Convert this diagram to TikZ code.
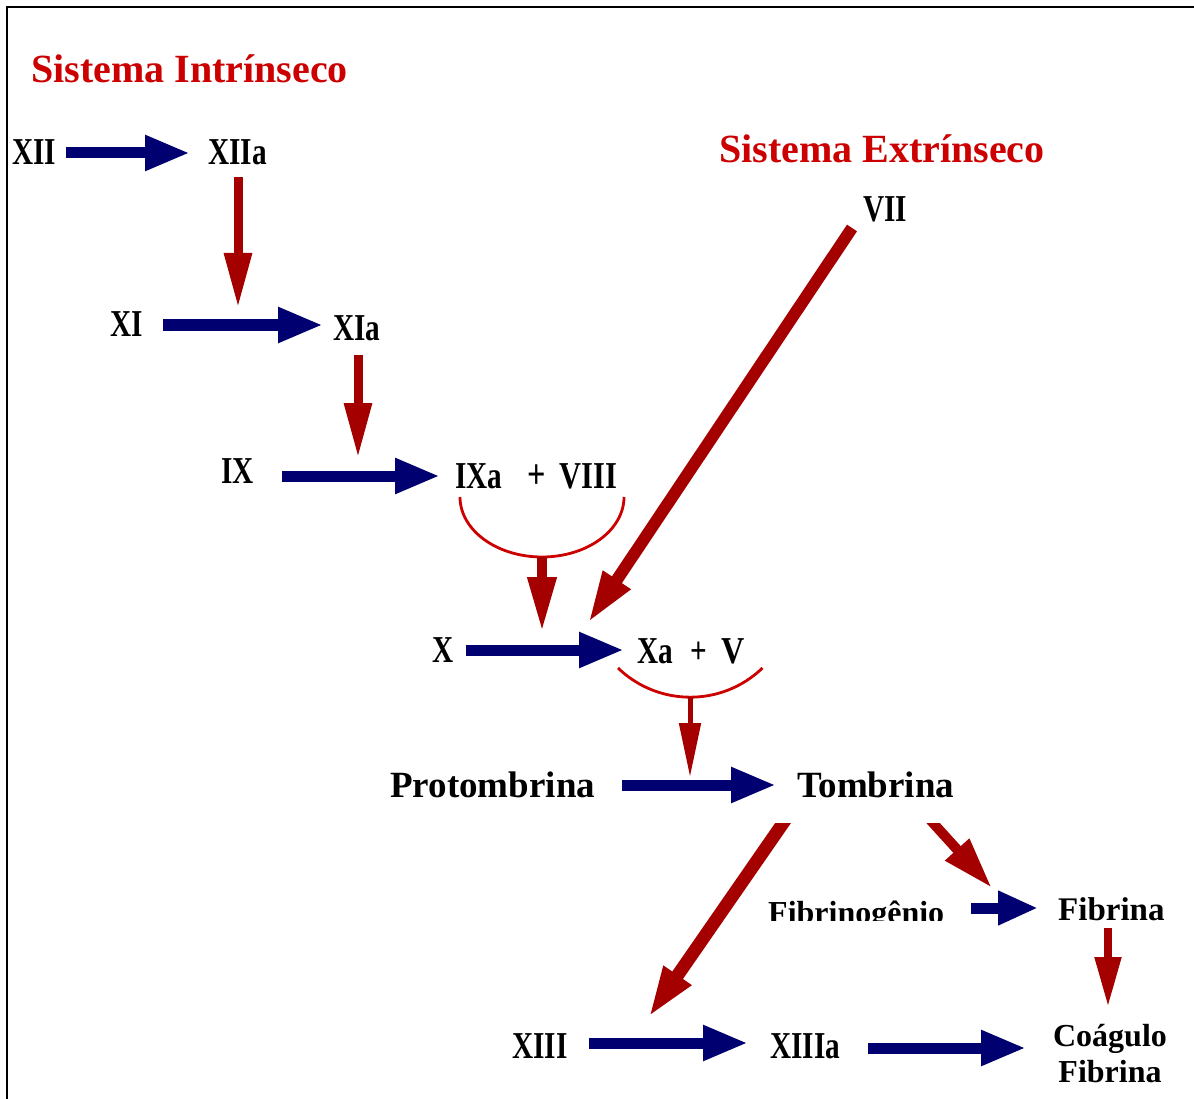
\documentclass[tikz,border=0pt]{standalone}
\usepackage{fontspec}
\setmainfont{Liberation Serif}
\newfontfamily\numfont[FakeStretch=0.77]{Liberation Serif}
\usetikzlibrary{arrows.meta}
\definecolor{navyarr}{RGB}{0,0,112}
\definecolor{redarr}{RGB}{165,0,0}
\definecolor{titlered}{RGB}{204,0,0}
\definecolor{bracketred}{RGB}{205,0,0}
\begin{document}
\begin{tikzpicture}[x=1pt,y=-1pt,
  num/.style={font=\numfont\bfseries\fontsize{38}{40}\selectfont, inner sep=0pt, anchor=base west},
  big/.style={font=\bfseries\fontsize{37}{40}\selectfont, inner sep=0pt, anchor=base west},
  ttl/.style={font=\bfseries\fontsize{40}{44}\selectfont, text=titlered, inner sep=0pt, anchor=base west},
  mid/.style={font=\bfseries\fontsize{32}{36}\selectfont, inner sep=0pt, anchor=base west},
  barrow/.style={draw=navyarr, line width=11pt, -{Triangle[length=45pt,width=33pt]}},
  rarrow/.style={draw=redarr, line width=9pt, -{Triangle[length=55pt,width=26pt]}},
  rdiag/.style={draw=redarr, line width=12pt, -{Triangle[length=52pt,width=30pt]}},
  bracket/.style={draw=bracketred, line width=2.8pt},
]
\useasboundingbox (0,0) rectangle (1194,1099);
\fill[white] (0,0) rectangle (1194,1099);
% frame
\draw[line width=2.5pt] (7,1099) -- (7,7) -- (1194,7);

% titles
\node[ttl] (sisint) at (31,83) {Sistema Intrínseco};
\node[ttl] (sisext) at (719,163) {Sistema Extrínseco};

% factors
\node[num] (XII) at (12,165) {XII};
\node[num] (XIIa) at (208,165) {XIIa};
\node[num] (XI) at (110,336) {XI};
\node[num] (XIa) at (333,340) {XIa};
\node[num] (IX) at (221,483) {IX};
\node[num] (IXa) at (455,488) {IXa\hspace{25pt}{\fontsize{42}{40}\selectfont+}\hspace{14pt}\scalebox{1.04}[1]{VIII}};
\node[num] (VII) at (863,222) {VII};
\node[num] (X) at (432,662) {X};
\node[num] (Xa) at (637,663) {Xa\hspace{18pt}+\hspace{14pt}\scalebox{1.1}[1]{V}};
\node[big] (prot) at (390,797) {Protombrina};
\node[big] (tomb) at (797,797) {Tombrina};
\node[num] (XIII) at (512,1058) {XIII};
\node[num] (XIIIa) at (770,1058) {XIIIa};
\node[mid, align=center, anchor=center] (coag) at (1110,1054) {Coágulo\\Fibrina};
\begin{scope}
  \clip (700,860) rectangle (1194,920);
  \node[mid] (fibg) at (768,923) {Fibrinogênio};
  \node[font=\bfseries\fontsize{33}{36}\selectfont, inner sep=0pt, anchor=base west] (fib) at (1058,920) {Fibrina};
\end{scope}

% connector end points
\coordinate (b1s) at (66,153);   \coordinate (b1e) at (190,153);
\coordinate (b2s) at (163,325);  \coordinate (b2e) at (323,325);
\coordinate (b3s) at (282,476);  \coordinate (b3e) at (440,476);
\coordinate (b4s) at (466,650);  \coordinate (b4e) at (624,650);
\coordinate (b5s) at (622,785);  \coordinate (b5e) at (776,785);
\coordinate (b6s) at (971,908);  \coordinate (b6e) at (1038,908);
\coordinate (b7s) at (589,1043); \coordinate (b7e) at (748,1043);
\coordinate (b8s) at (868,1048); \coordinate (b8e) at (1026,1048);

\coordinate (r1s) at (238,177);  \coordinate (r1e) at (238,308);
\coordinate (r2s) at (358,355);  \coordinate (r2e) at (358,458);
\coordinate (r3s) at (542,557);  \coordinate (r3e) at (542,632);
\coordinate (r4s) at (690,697);  \coordinate (r4e) at (690,777);
\coordinate (r5s) at (1108,928); \coordinate (r5e) at (1108,1007);
\coordinate (d1s) at (852,228);  \coordinate (d1e) at (588,623);
\coordinate (d2s) at (790,813);  \coordinate (d2e) at (648,1018);
\coordinate (d3s) at (924,813);  \coordinate (d3e) at (992,888);

% blue arrows
\draw[barrow] (b1s) -- (b1e);
\draw[barrow] (b2s) -- (b2e);
\draw[barrow] (b3s) -- (b3e);
\draw[barrow] (b4s) -- (b4e);
\draw[barrow] (b5s) -- (b5e);
\draw[barrow, -{Triangle[length=40pt,width=32pt]}] (b6s) -- (b6e);
\draw[barrow] (b7s) -- (b7e);
\draw[barrow] (b8s) -- (b8e);

% brackets
\draw[bracket] (460,497) arc[start angle=180, end angle=0, x radius=82, y radius=60];
\draw[bracket] (618,668) arc[start angle=134, end angle=46, radius=104];

% red arrows
\draw[rarrow] (r1s) -- (r1e);
\draw[rarrow] (r2s) -- (r2e);
\draw[rarrow, line width=10pt, -{Triangle[length=55pt,width=27pt]}] (r3s) -- (r3e);
\draw[rarrow, line width=5pt, -{Triangle[length=54pt,width=21pt]}] (r4s) -- (r4e);
\draw[rarrow, line width=8pt, -{Triangle[length=50pt,width=25pt]}] (r5s) -- (r5e);
\draw[rdiag] (d1s) -- (d1e);
\begin{scope}
  \clip (0,823) rectangle (1194,1099);
  \draw[rdiag, line width=13pt] (d2s) -- (d2e);
  \draw[rdiag, line width=10pt] (d3s) -- (d3e);
\end{scope}
\end{tikzpicture}
\end{document}
